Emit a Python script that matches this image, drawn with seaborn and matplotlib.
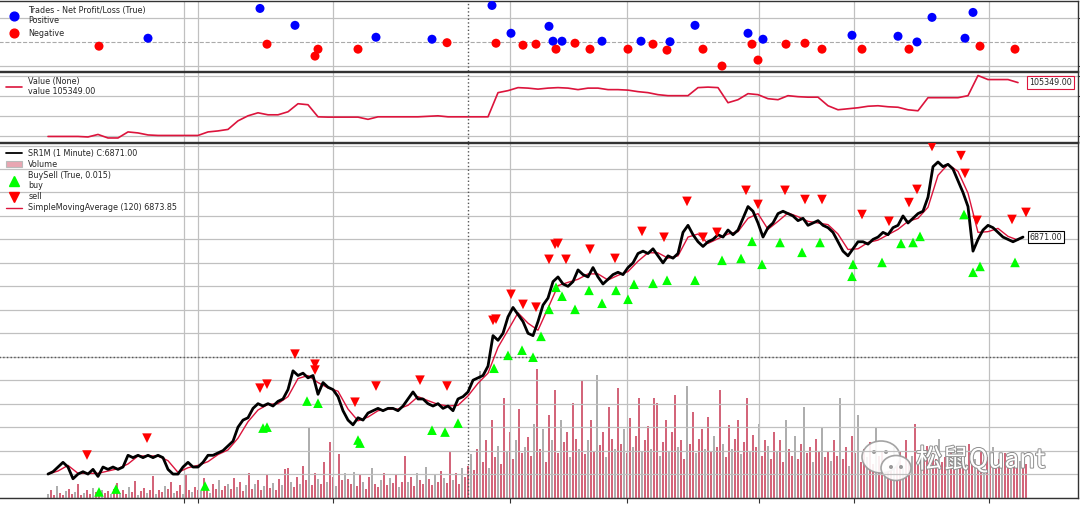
import numpy as np
import pandas as pd
import seaborn as sns
import matplotlib.pyplot as plt
import matplotlib.patheffects as pe
from matplotlib.lines import Line2D
from matplotlib.patches import Patch, Ellipse, Circle
from matplotlib.transforms import IdentityTransform

# ---------------------------------------------------------------------------
# data (x = minute-bar index)
# ---------------------------------------------------------------------------
close = [
    6770, 6771, 6773, 6775, 6773, 6768, 6770, 6771, 6770, 6772,
    6769, 6773, 6772, 6773, 6772, 6773, 6778, 6777, 6778, 6777,
    6778, 6777, 6778, 6777, 6772, 6770, 6770, 6773, 6775, 6773,
    6773, 6775, 6778, 6778, 6779, 6780, 6782, 6784, 6790, 6793,
    6794, 6798, 6800, 6799, 6800, 6799, 6801, 6802, 6806, 6814,
    6812, 6813, 6811, 6812, 6804, 6809, 6807, 6806, 6803, 6797,
    6793, 6791, 6794, 6793, 6796, 6797, 6798, 6797, 6798, 6798,
    6797, 6799, 6802, 6805, 6802, 6802, 6800, 6799, 6800, 6798,
    6799, 6797, 6802, 6803, 6805, 6810, 6811, 6812, 6816, 6829,
    6827, 6830, 6837, 6841, 6838, 6835, 6830, 6829, 6835, 6842,
    6845, 6852, 6854, 6851, 6850, 6852, 6857, 6855, 6854, 6858,
    6854, 6851, 6853, 6855, 6856, 6855, 6858, 6860, 6864, 6865,
    6864, 6866, 6863, 6860, 6863, 6862, 6864, 6873, 6876, 6872,
    6869, 6867, 6869, 6870, 6872, 6871, 6874, 6872, 6874, 6879,
    6884, 6882, 6877, 6871, 6875, 6877, 6881, 6882, 6881, 6880,
    6878, 6879, 6876, 6877, 6878, 6876, 6875, 6873, 6869, 6865,
    6863, 6866, 6869, 6869, 6868, 6870, 6871, 6873, 6872, 6875,
    6876, 6880, 6877, 6879, 6881, 6882, 6888, 6901, 6903, 6901,
    6902, 6900, 6895, 6890, 6884, 6865, 6870, 6874, 6876, 6875,
    6873, 6871, 6870, 6869, 6870, 6871,
]
sma120 = [
    6770, 6771.3, 6773.7, 6770.3, 6770.3, 6770.3, 6771.3, 6772.3, 6774.3, 6777.7,
    6777.7, 6777.7, 6775.7, 6770.7, 6772.7, 6773.7, 6775.3, 6778.3, 6780.3, 6785.3,
    6792.3, 6797.3, 6799.7, 6800, 6803, 6810.7, 6812, 6809, 6806.7, 6805.3,
    6797.7, 6792.7, 6794.3, 6797, 6797.7, 6797.7, 6799.3, 6803, 6801.3, 6799.7,
    6799, 6799.3, 6803.3, 6808.7, 6813, 6824, 6831.3, 6838.7, 6834.3, 6831.3,
    6840.7, 6850.3, 6851.7, 6853, 6855.3, 6855.3, 6852.7, 6854.7, 6856.3, 6860.7,
    6864.3, 6864.3, 6862, 6863, 6871, 6872.3, 6868.3, 6870.3, 6872.3, 6873.3,
    6879, 6881, 6874.3, 6877.7, 6881.3, 6879.7, 6877.7, 6877, 6876.3, 6872.3,
    6865.7, 6866, 6868.7, 6869.7, 6872, 6874.3, 6877.7, 6879, 6883.7, 6897.3,
    6902, 6899, 6889.7, 6873, 6873.3, 6874.7, 6871.3, 6869.7,
]
broker_value = [
    100000, 100000, 100000, 100000, 99950, 100200, 99850, 99850, 100450, 100350,
    100150, 100100, 100100, 100100, 100100, 100100, 100450, 100550, 100700, 101550,
    102050, 102350, 102150, 102150, 102450, 103250, 103150, 101950, 101920, 101920,
    101920, 101920, 101700, 101950, 101950, 101950, 101950, 101950, 102000, 102050,
    101950, 101950, 101950, 101950, 101950, 104350, 104550, 104850, 104800, 104700,
    104800, 104850, 104800, 104650, 104800, 104800, 104650, 104650, 104600, 104450,
    104350, 104150, 104050, 104050, 104050, 104850, 104900, 104850, 103350, 103650,
    104250, 104150, 103750, 103650, 104050, 103950, 103900, 103900, 103050, 102650,
    102750, 102850, 103000, 103050, 102950, 102900, 102650, 102550, 103850, 103850,
    103850, 103850, 104050, 106050, 105650, 105650, 105650, 105349,
]
volume = [
    5, 9, 4, 14, 6, 3, 8, 11, 5, 7, 16, 4, 6, 10, 5, 12, 7, 4, 9, 6,
    8, 5, 11, 18, 6, 9, 5, 13, 7, 20, 4, 8, 12, 6, 10, 26, 5, 9, 7, 14,
    11, 19, 6, 8, 15, 5, 28, 9, 7, 13, 10, 8, 24, 12, 6, 17, 11, 21, 9, 14,
    16, 11, 24, 13, 19, 8, 15, 30, 11, 17, 21, 9, 14, 27, 12, 18, 10, 23, 15, 34,
    36, 19, 13, 25, 17, 38, 21, 84, 15, 29, 23, 17, 42, 19, 66, 25, 14, 52, 21, 29,
    23, 17, 31, 14, 27, 19, 11, 25, 35, 17, 13, 21, 29, 15, 24, 18, 27, 13, 19, 50,
    19, 25, 14, 29, 21, 17, 37, 23, 15, 27, 19, 32, 24, 18, 55, 21, 29, 17, 35, 25,
    38, 52, 33, 58, 150, 43, 68, 36, 92, 48, 62, 40, 118, 56, 78, 46, 68, 105, 53, 60,
    72, 50, 88, 152, 58, 82, 43, 98, 68, 128, 53, 92, 66, 78, 48, 112, 70, 58, 140, 52,
    68, 92, 56, 145, 63, 78, 48, 108, 70, 58, 130, 64, 82, 53, 95, 60, 73, 118, 56, 68,
    85, 58, 118, 112, 50, 66, 92, 56, 78, 122, 60, 68, 46, 132, 64, 102, 53, 70, 82, 58,
    96, 56, 73, 60, 128, 64, 48, 86, 58, 70, 92, 52, 66, 118, 56, 74, 60, 88, 50, 68,
    62, 46, 78, 54, 68, 43, 92, 58, 50, 73, 46, 64, 108, 53, 60, 42, 70, 56, 83, 48,
    56, 44, 68, 50, 118, 46, 60, 38, 73, 53, 98, 43, 58, 48, 66, 40, 83, 50, 56, 44,
    48, 38, 60, 46, 54, 36, 68, 42, 50, 88, 40, 56, 44, 62, 38, 53, 46, 70, 42, 48,
    40, 54, 36, 58, 44, 50, 33, 64, 42, 46, 38, 56, 34, 48, 43, 60, 38, 46, 36, 53,
    42, 34, 48, 38, 44, 36, 40,
]

buy_t = [51, 68, 157, 215, 219, 259, 270, 310, 312, 384, 397, 410, 446, 460, 474,
         485, 493, 501, 508, 514, 527, 541, 554, 568, 580, 586, 605, 619, 647, 674,
         693, 704, 714, 732, 754, 772, 804, 805, 834, 853, 865, 872, 916, 925, 932, 967]
buy_price = [6762.4, 6763.6, 6764.9, 6789.6, 6790.0, 6801.1, 6800.2, 6784.5, 6783.2,
             6788.7, 6787.9, 6791.7, 6815.1, 6820.6, 6822.8, 6819.8, 6828.7, 6840.2,
             6849.6, 6845.8, 6840.2, 6848.3, 6842.8, 6848.3, 6844.5, 6850.9, 6851.3,
             6852.6, 6852.6, 6861.1, 6861.9, 6869.2, 6859.4, 6868.7, 6864.5, 6868.7,
             6854.3, 6859.4, 6860.2, 6868.3, 6868.7, 6871.3, 6880.6, 6856.0, 6858.5, 6860.2]
sell_t = [39, 99, 212, 219, 247, 267, 267, 307, 328, 372, 399, 445, 448, 463, 475,
          488, 501, 507, 510, 518, 542, 567, 594, 616, 639, 655, 669, 698, 710, 737,
          757, 774, 814, 841, 861, 869, 884, 913, 917, 929, 964, 978]
sell_price = [6778.1, 6785.3, 6806.6, 6808.3, 6821.1, 6816.8, 6814.3, 6800.6, 6807.5,
              6810.0, 6807.5, 6835.5, 6836.0, 6846.6, 6842.3, 6841.1, 6861.5, 6867.9,
              6868.3, 6861.5, 6865.8, 6861.9, 6873.4, 6870.9, 6886.2, 6870.9, 6873.0,
              6890.9, 6884.9, 6890.9, 6887.0, 6887.0, 6880.6, 6877.7, 6885.7, 6891.3,
              6909.6, 6905.7, 6898.1, 6878.1, 6878.5, 6881.5]

win_t = [100, 212, 247, 328, 384, 444, 463, 501, 505, 514, 554, 593, 622, 647,
         700, 715, 804, 850, 869, 884, 917, 925]
win_pnl = [167, 1417, 708, 208, 125, 1542, 375, 667, 42, 42, 42, 42, 20, 708,
           375, 125, 292, 250, 10, 1042, 167, 1250]
loss_t = [51, 219, 270, 267, 310, 399, 448, 475, 488, 508, 527, 542, 580, 605,
          619, 655, 674, 704, 710, 738, 757, 774, 814, 861, 932, 967]
loss_pnl = [-167, -83, -292, -583, -292, -20, -42, -125, -83, -292, -42, -292, -292, -83,
            -333, -292, -1000, -83, -750, -83, -42, -292, -292, -292, -167, -292]

xtick_pos = [136, 150, 285, 462, 579, 711, 806, 941]
cursor_t = 420
cursor_price = 6820

# ---------------------------------------------------------------------------
sns.set_style('whitegrid')
plt.rcParams['font.family'] = ['DejaVu Sans', 'Noto Sans CJK SC']
FS = 5.8
plt.rcParams['font.size'] = FS

W, H = 1080, 508
fig = plt.figure(figsize=(W / 100, H / 100), dpi=100)
LEFT, RIGHT = -20, 1078


def px_axes(top, bottom):
    return fig.add_axes([LEFT / W, 1 - bottom / H, (RIGHT - LEFT) / W, (bottom - top) / H])


ax_tr = px_axes(0.5, 71)
ax_val = px_axes(71.5, 142)
ax_px = px_axes(142.5, 498)

XLIM = (-68, 1030)
GRID = '#c0c0c0'
CRIMSON = '#dc143c'

for ax in (ax_tr, ax_val, ax_px):
    ax.set_xlim(*XLIM)
    ax.set_xticks(xtick_pos)
    ax.yaxis.tick_right()
    ax.tick_params(axis='both', which='both', length=3.5, width=0.8, color='#333333',
                   labelbottom=False, labelleft=False, labelright=False,
                   bottom=True, right=True, left=False)
    ax.grid(True, color=GRID, linewidth=0.9)
    for s in ax.spines.values():
        s.set_color('#333333')
        s.set_linewidth(1.0)
    ax.set_xlabel('')
    ax.set_ylabel('')
ax_tr.tick_params(bottom=False)
ax_val.tick_params(bottom=False)

legend_kw = dict(bbox_transform=fig.transFigure, loc='upper left', frameon=False,
                 borderaxespad=0, borderpad=0, fontsize=FS,
                 handlelength=2.0, handletextpad=0.75)

# --- trades panel ----------------------------------------------------------
ax_tr.set_ylim(-1208, 1750)
ax_tr.set_yticks([-1000, 1000])
ax_tr.axhline(0, color='#aaaaaa', ls='--', lw=0.8)
sns.scatterplot(x=win_t, y=win_pnl, ax=ax_tr, color='blue', s=42, edgecolor='none', zorder=3)
sns.scatterplot(x=loss_t, y=loss_pnl, ax=ax_tr, color='red', s=42, edgecolor='none', zorder=3)
tr_handles = [Line2D([], [], ls='none', marker='o', color='blue', ms=6.3),
              Line2D([], [], ls='none', marker='o', color='red', ms=6.3)]
ax_tr.legend(tr_handles, ['Trades - Net Profit/Loss (True)\nPositive', 'Negative'],
             bbox_to_anchor=(6 / W, 1 - 6 / H), labelspacing=0.4, **legend_kw)

# --- value panel -----------------------------------------------------------
ax_val.set_ylim(99450, 106450)
ax_val.set_yticks([100000, 102000, 104000, 106000])
t_val = np.arange(len(broker_value)) * 10
sns.lineplot(x=t_val, y=broker_value, ax=ax_val, color=CRIMSON, linewidth=1.2)
ax_val.legend([Line2D([], [], color=CRIMSON, lw=1.2)], ['Value (None)\nvalue 105349.00'],
              bbox_to_anchor=(6 / W, 1 - 77 / H), **legend_kw)
ax_val.text(981, broker_value[-1], '105349.00', fontsize=FS, va='center', ha='left',
            bbox=dict(boxstyle='square,pad=0.22', fc='white', ec=CRIMSON, lw=0.8))

# --- price panel -----------------------------------------------------------
ax_px.set_ylim(6759.8, 6911.3)
ax_px.set_yticks(np.arange(6760, 6911, 10))

ax_vol = ax_px.twinx()
ax_vol.set_ylim(0, 420)
ax_vol.set_xlim(*XLIM)
ax_vol.axis('off')
t_vol = np.arange(len(volume)) * 3
vol_df = pd.DataFrame({'t': t_vol, 'v': volume})
up = vol_df[vol_df.index % 3 == 0]
dn = vol_df[vol_df.index % 3 != 0]
ax_vol.bar(up.t, up.v, width=2.3, color='#a0a0a0', alpha=0.85, linewidth=0)
ax_vol.bar(dn.t, dn.v, width=2.3, color='#cc4a63', alpha=0.85, linewidth=0)
ax_px.set_zorder(ax_vol.get_zorder() + 1)
ax_px.patch.set_visible(False)

t_close = np.arange(len(close)) * 5
t_sma = np.arange(len(sma120)) * 10
sns.lineplot(x=t_sma, y=sma120, ax=ax_px, color=CRIMSON, linewidth=1.0, zorder=3)
sns.lineplot(x=t_close, y=close, ax=ax_px, color='black', linewidth=2.0, zorder=4)
sns.scatterplot(x=buy_t, y=buy_price, ax=ax_px, marker='^', color='#00ff00', s=48,
                edgecolor='none', zorder=5)
sns.scatterplot(x=sell_t, y=sell_price, ax=ax_px, marker='v', color='red', s=48,
                edgecolor='none', zorder=5)
ax_px.axhline(cursor_price, color='#555555', ls=':', lw=1.0)
ax_px.text(982, close[-1], '6871.00', fontsize=FS, va='center', ha='left',
           bbox=dict(boxstyle='square,pad=0.22', fc='white', ec='black', lw=0.8), zorder=6)

px_handles = [Line2D([], [], color='black', lw=1.3),
              Patch(facecolor='#e8a6b2', edgecolor='#bbbbbb', lw=0.8),
              Line2D([], [], ls='none', marker='^', color='#00ff00', ms=7),
              Line2D([], [], ls='none', marker='v', color='red', ms=7),
              Line2D([], [], color=CRIMSON, lw=1.0)]
px_labels = ['SR1M (1 Minute) C:6871.00', 'Volume', 'BuySell (True, 0.015)\nbuy', 'sell',
             'SimpleMovingAverage (120) 6873.85']
ax_px.legend(px_handles, px_labels, bbox_to_anchor=(6 / W, 1 - 149 / H),
             labelspacing=0.25, **legend_kw)

for ax in (ax_tr, ax_val, ax_px):
    ax.axvline(cursor_t, color='#555555', ls=':', lw=1.0)

# --- watermark ---------------------------------------------------------------
tf = IdentityTransform()
fig.add_artist(Ellipse((881, H - 457), 38, 32, transform=tf, fc='white', ec='#9a9a9a', lw=1.2, alpha=0.9))
fig.add_artist(Ellipse((896, H - 468), 30, 25, transform=tf, fc='white', ec='#9a9a9a', lw=1.2, alpha=0.9))
for cx, cy in [(874, H - 452), (886, H - 452), (891, H - 467), (901, H - 467)]:
    fig.add_artist(Circle((cx, cy), 2, transform=tf, fc='#9a9a9a', ec='none'))
fig.text(916 / W, 1 - 460 / H, '松鼠Quant', fontsize=19, color='white',
         family=['Noto Sans CJK SC', 'DejaVu Sans'], va='center', ha='left',
         path_effects=[pe.withStroke(linewidth=1.4, foreground='#8f8f8f')])

fig.savefig('out.png', dpi=100)
